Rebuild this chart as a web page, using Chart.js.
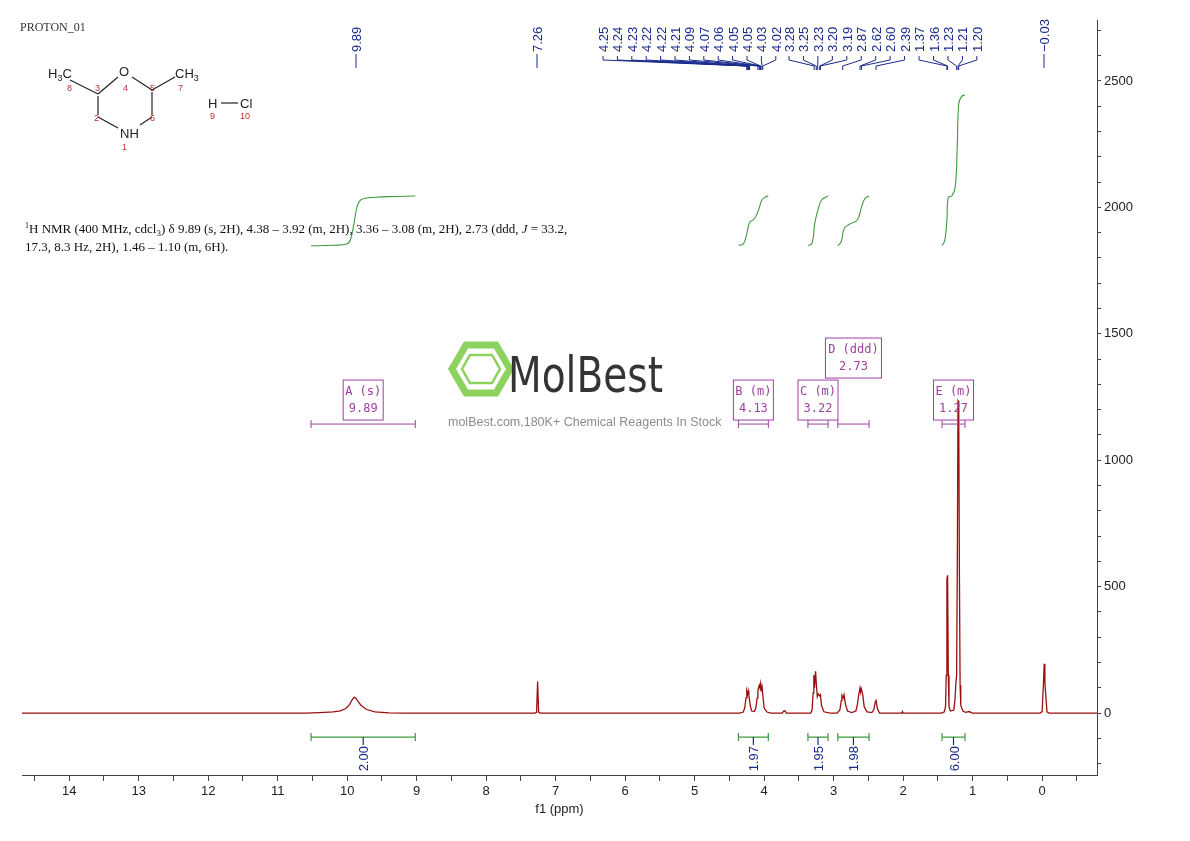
<!DOCTYPE html>
<html><head><meta charset="utf-8">
<script src="https://cdn.jsdelivr.net/npm/chart.js@4.4.0/dist/chart.umd.min.js"></script>
<style>
body{margin:0;background:#fff;}
#wrap{position:relative;width:1190px;height:841px;}
canvas{position:absolute;left:0;top:0;}
svg{position:absolute;left:0;top:0;pointer-events:none;}
</style></head><body>
<div id="wrap"><canvas id="c" width="1190" height="841"></canvas>
<svg width="1190" height="841" font-family="Liberation Sans, Arial">
<text x="20" y="31" font-family="Liberation Serif" font-size="12" fill="#333">PROTON_01</text>
<g stroke="#222" stroke-width="1.2" fill="none">
<line x1="70" y1="80" x2="98" y2="94"/><line x1="98" y1="94" x2="118" y2="77"/><line x1="132" y1="77" x2="152" y2="90"/><line x1="152" y1="90" x2="175" y2="77"/>
<line x1="98" y1="96" x2="98" y2="115"/><line x1="152" y1="92" x2="152" y2="115"/><line x1="98" y1="117" x2="118" y2="128"/><line x1="152" y1="117" x2="140" y2="125"/>
<line x1="221" y1="103" x2="238" y2="103"/></g>
<g font-size="13" fill="#222"><text x="48" y="78">H<tspan font-size="9" dy="3">3</tspan><tspan dy="-3">C</tspan></text>
<text x="119" y="76">O</text><text x="175" y="78">CH<tspan font-size="9" dy="3">3</tspan></text>
<text x="120" y="138">NH</text><text x="208" y="108">H</text><text x="240" y="108">Cl</text></g>
<g font-size="9" fill="#c03030"><text x="67" y="91">8</text><text x="95" y="91">3</text><text x="123" y="91">4</text><text x="150" y="91">5</text><text x="178" y="91">7</text>
<text x="94" y="121">2</text><text x="150" y="121">6</text><text x="122" y="150">1</text><text x="210" y="119">9</text><text x="240" y="119">10</text></g>
<g font-family="Liberation Serif" font-size="13" fill="#111"><text x="25" y="233"><tspan font-size="8" dy="-5">1</tspan><tspan dy="5">H NMR (400 MHz, cdcl</tspan><tspan font-size="9" dy="3">3</tspan><tspan dy="-3">) δ 9.89 (s, 2H), 4.38 – 3.92 (m, 2H), 3.36 – 3.08 (m, 2H), 2.73 (ddd, </tspan><tspan font-style="italic">J</tspan> = 33.2,</text>
<text x="25" y="251">17.3, 8.3 Hz, 2H), 1.46 – 1.10 (m, 6H).</text></g>
<g opacity="0.85"><polygon points="466,345 496,345 510,369 496,393 466,393 452,369" fill="none" stroke="#7ac943" stroke-width="7"/>
<polygon points="470,355 492,355 500,369 492,383 470,383 462,369" fill="none" stroke="#7ac943" stroke-width="2.5"/>
<text x="508" y="392" font-size="50" fill="#111" font-family="DejaVu Sans Condensed" textLength="155" lengthAdjust="spacingAndGlyphs">MolBest</text>
<text x="448" y="426" font-size="12.5" fill="#777">molBest.com,180K+ Chemical Reagents In Stock</text></g>
</svg></div>
<script>
// spectrum points [ppm, intensity]
const spectrum=[[14.75,0],[10.6,0],[10.4,2],[10.2,5],[10.1,9],[10.02,18],[9.97,32],[9.93,52],[9.9,62],[9.88,60],[9.85,48],[9.8,30],[9.72,14],[9.6,5],[9.4,1],[9.2,0],
[7.3,0],[7.275,3],[7.26,125],[7.245,3],[7.22,0],
[4.35,0],[4.3,4],[4.28,20],[4.26,60],[4.25,85],[4.24,72],[4.23,88],[4.22,70],[4.2,30],[4.18,8],[4.14,6],[4.12,20],[4.1,60],[4.09,90],[4.07,110],[4.06,100],[4.05,118],[4.04,95],[4.03,105],[4.015,60],[4.0,20],[3.96,4],[3.9,0],
[3.74,0],[3.72,8],[3.7,9],[3.68,0],
[3.33,0],[3.31,12],[3.295,80],[3.285,150],[3.275,100],[3.26,165],[3.25,120],[3.235,65],[3.22,75],[3.2,68],[3.19,72],[3.175,30],[3.14,5],[3.05,0],
[2.95,0],[2.91,12],[2.89,50],[2.88,70],[2.86,60],[2.85,72],[2.83,35],[2.8,8],[2.74,2],[2.68,8],[2.66,30],[2.64,70],[2.62,100],[2.61,85],[2.6,95],[2.58,70],[2.56,25],[2.52,5],[2.45,2],[2.42,15],[2.4,45],[2.39,50],[2.37,18],[2.34,0],
[2.02,0],[2.01,6],[2.0,0],[1.45,0],[1.41,4],[1.39,25],[1.38,150],[1.37,530],[1.36,545],[1.35,150],[1.34,25],[1.32,8],[1.27,12],[1.255,50],[1.24,120],[1.23,150],[1.22,600],[1.21,1235],[1.2,1230],[1.19,550],[1.18,110],[1.17,30],[1.14,8],[1.1,3],[1.05,6],[1.0,0],
[0.03,0],[0.0,6],[-0.02,120],[-0.03,195],[-0.04,120],[-0.07,5],[-0.1,0],[-0.8,0]];
const intA=[[10.52,1848],[10.2,1850],[10.0,1856],[9.95,1875],[9.9,1940],[9.86,2000],[9.8,2030],[9.6,2040],[9.3,2043],[9.02,2045]];
const intB=[[4.37,1850],[4.3,1855],[4.25,1895],[4.21,1940],[4.14,1955],[4.08,1990],[4.03,2030],[3.97,2043],[3.94,2045]];
const intC=[[3.37,1848],[3.31,1858],[3.27,1940],[3.22,1995],[3.17,2030],[3.08,2045]];
const intD=[[2.94,1848],[2.89,1865],[2.85,1915],[2.78,1932],[2.66,1950],[2.6,2000],[2.55,2035],[2.49,2045]];
const intE=[[1.44,1848],[1.4,1870],[1.37,1950],[1.35,2040],[1.3,2045],[1.25,2080],[1.22,2250],[1.2,2410],[1.16,2438],[1.11,2445]];
const integrals=[intA,intB,intC,intD,intE];
const intValues=['2.00','1.97','1.95','1.98','6.00'];
const multLetters=['A (s)','B (m)','C (m)','D (ddd)','E (m)'];
const multCenters=['9.89','4.13','3.22','2.73','1.27'];
const peakLabels=[['9.89'],['7.26'],['4.25','4.24','4.23','4.22','4.22','4.21','4.09','4.07','4.06','4.05','4.05','4.03','4.02'],
['3.28','3.25','3.23','3.20','3.19','2.87','2.62','2.60','2.39','1.37','1.36','1.23','1.21','1.20'],['-0.03']];
const xTicks=[14,13,12,11,10,9,8,7,6,5,4,3,2,1,0];
const yTicks=[0,500,1000,1500,2000,2500];

const pt=a=>a.map(p=>({x:p[0],y:p[1]}));
const ds=[{data:pt(spectrum),borderColor:'#9b0f0f',borderWidth:1.3,pointRadius:0,tension:0}];
integrals.forEach(a=>ds.push({data:pt(a),borderColor:'#3f9a3f',borderWidth:1.1,pointRadius:0,tension:0.4}));

const overlay={id:'ov',afterDraw(ch){
 const c=ch.ctx,x=ch.scales.x,y=ch.scales.y;
 c.save();
 integrals.forEach((a,i)=>{
  const x1=x.getPixelForValue(a[0][0]),x2=x.getPixelForValue(a[a.length-1][0]),yy=y.getPixelForValue(-95),xm=(x1+x2)/2;
  c.strokeStyle='#3f9a3f';c.lineWidth=1.2;c.beginPath();c.moveTo(x1,yy);c.lineTo(x2,yy);c.moveTo(x1,yy-4);c.lineTo(x1,yy+4);c.moveTo(x2,yy-4);c.lineTo(x2,yy+4);c.stroke();
  c.strokeStyle='#1a2a8a';c.beginPath();c.moveTo(xm,yy);c.lineTo(xm,yy+8);c.stroke();
  c.save();c.translate(xm+5,yy+9);c.rotate(-Math.PI/2);c.fillStyle='#1a2a8a';c.font='13px "Liberation Sans"';c.textAlign='right';c.fillText(intValues[i],0,0);c.restore();
  const yb=y.getPixelForValue(1143);
  c.strokeStyle='#a040a0';c.lineWidth=1;c.beginPath();c.moveTo(x1,yb);c.lineTo(x2,yb);c.moveTo(x1,yb-4);c.lineTo(x1,yb+4);c.moveTo(x2,yb-4);c.lineTo(x2,yb+4);c.stroke();
  const raise=i===3?42:0, w=i===3?56:40, bb=yb-4-raise;
  c.strokeRect(xm-w/2,bb-40,w,40);
  c.fillStyle='#a040a0';c.font='12px "DejaVu Sans Mono"';c.textAlign='center';
  c.fillText(multLetters[i],xm,bb-25);c.fillText(multCenters[i],xm,bb-8);
 });
 c.strokeStyle='#1a2a8a';c.fillStyle='#1a2a8a';c.font='13px "Liberation Sans"';c.lineWidth=1;
 const groups=[{start:356,step:0},{start:537,step:0},{start:603,step:14.4},{start:789,step:14.45},{start:1044,step:0}];
 peakLabels.forEach((g,gi)=>{
  g.forEach((lab,k)=>{
   const lx=groups[gi].start+k*groups[gi].step, px=x.getPixelForValue(parseFloat(lab));
   c.save();c.translate(lx+5,52);c.rotate(-Math.PI/2);c.textAlign='left';c.fillText(lab.replace('-','−'),0,0);c.restore();
   c.beginPath();
   if(groups[gi].step===0){c.moveTo(lx,54);c.lineTo(lx,68);}
   else{c.moveTo(lx,56);c.lineTo(lx,60);c.lineTo(px,66);c.lineTo(px,70);}
   c.stroke();
  });
 });
 c.restore();
}};

new Chart(document.getElementById('c'),{type:'line',data:{datasets:ds},
options:{responsive:false,animation:false,events:[],
 layout:{padding:{left:22,top:20,right:0,bottom:24}},
 plugins:{legend:{display:false},tooltip:{enabled:false}},
 scales:{
  x:{type:'linear',reverse:true,min:-0.79,max:14.68,
   afterBuildTicks:s=>{const t=[];for(let v=14.5;v>=-0.5;v-=0.5)t.push({value:v});s.ticks=t;},
   ticks:{autoSkip:false,maxRotation:0,color:'#222',font:{size:13,family:'Liberation Sans'},callback:v=>xTicks.includes(v)?String(v):''},
   grid:{drawOnChartArea:false,tickLength:6,color:'#444'},border:{color:'#444'},
   title:{display:true,text:'f1 (ppm)',color:'#222',font:{size:13,family:'Liberation Sans'},padding:{top:0,bottom:0}},
   afterFit:s=>{s.height=42;}},
  y:{position:'right',min:-245,max:2741,
   afterBuildTicks:s=>{const t=[];for(let v=-200;v<=2700;v+=100)t.push({value:v});s.ticks=t;},
   ticks:{autoSkip:false,color:'#222',font:{size:13,family:'Liberation Sans'},callback:v=>yTicks.includes(v)?String(v):''},
   grid:{drawOnChartArea:false,tickLength:4,color:'#444'},border:{color:'#444'},
   afterFit:s=>{s.width=93;}}
 }},plugins:[overlay]});
</script></body></html>
